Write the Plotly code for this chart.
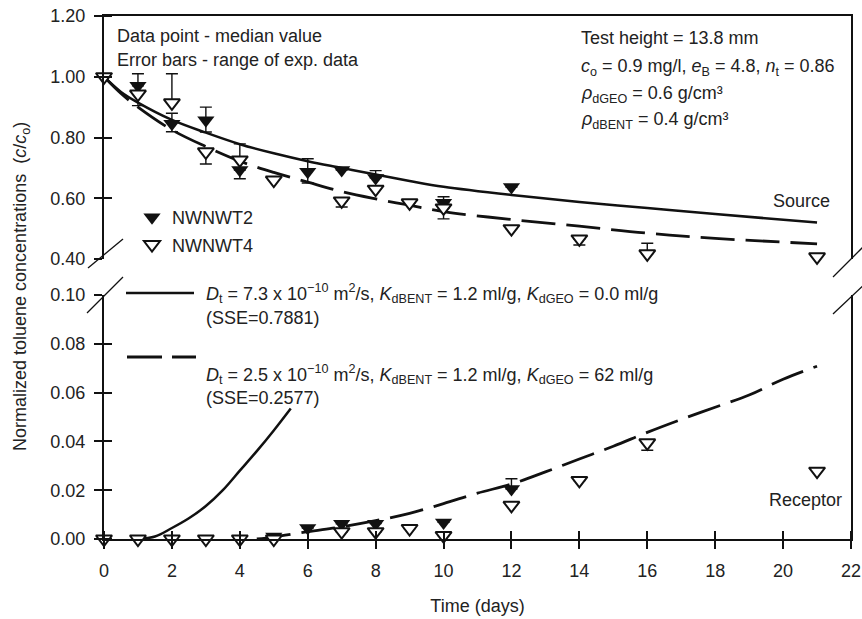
import plotly.graph_objects as go

# ---------------- data ----------------
# Source side (upper panel)
t2_src_t = [0, 1, 2, 3, 4, 6, 7, 8, 10, 12]
t2_src_c = [1.00, 0.97, 0.845, 0.857, 0.693, 0.687, 0.693, 0.667, 0.585, 0.637]
t2_src_hi = [0, 0, 0.035, 0.043, 0, 0.043, 0, 0.024, 0.020, 0]
t2_src_lo = [0, 0, 0.026, 0.039, 0.029, 0.037, 0, 0, 0, 0]

t4_src_t = [0, 1, 2, 3, 4, 5, 7, 8, 9, 10, 12, 14, 16, 21]
t4_src_c = [1.00, 0.943, 0.914, 0.753, 0.726, 0.66, 0.591, 0.63, 0.585, 0.568, 0.50, 0.466, 0.417, 0.407]
t4_src_hi = [0, 0.067, 0.096, 0, 0.053, 0, 0, 0, 0, 0, 0, 0, 0.035, 0]
t4_src_lo = [0, 0.038, 0, 0.04, 0, 0, 0.02, 0, 0, 0.036, 0, 0.02, 0, 0]

# Receptor side (lower panel)
t2_rec_t = [5, 6, 7, 8, 10, 12]
t2_rec_c = [0.001, 0.0045, 0.0062, 0.0063, 0.0068, 0.0205]
t2_rec_hi = [0, 0, 0, 0, 0, 0.0042]

t4_rec_t = [0, 1, 2, 3, 4, 5, 7, 8, 9, 10, 12, 14, 16, 21]
t4_rec_c = [0, 0, 0, 0, 0, 0, 0.003, 0.003, 0.0043, 0.0014, 0.0138, 0.024, 0.0394, 0.0278]
t4_rec_lo = [0, 0, 0, 0, 0, 0, 0, 0, 0, 0, 0, 0, 0.003, 0]

# Model curves
mod_src_t = [0, 0.5, 1, 2, 3, 4, 5, 6, 7, 8, 9, 10, 12, 14, 16, 18, 21]
solid_src = [1.0, 0.95, 0.915, 0.858, 0.816, 0.778, 0.748, 0.722, 0.70, 0.678, 0.657, 0.638, 0.611, 0.588, 0.568, 0.548, 0.52]
dashed_src = [1.0, 0.945, 0.90, 0.825, 0.77, 0.722, 0.685, 0.653, 0.622, 0.598, 0.577, 0.556, 0.53, 0.508, 0.485, 0.468, 0.45]

solid_rec_t = [1.0, 1.5, 2, 2.5, 3, 3.5, 4, 4.5, 5, 5.5]
solid_rec = [0, 0.001, 0.0045, 0.0085, 0.0135, 0.020, 0.028, 0.036, 0.0445, 0.0535]

dashed_rec_t = [4.5, 5, 6, 7, 8, 9, 10, 11, 12, 13, 14, 15, 16, 17, 18, 19, 20, 21]
dashed_rec = [0, 0.0008, 0.003, 0.005, 0.0075, 0.0105, 0.0145, 0.0188, 0.0225, 0.0275, 0.0328, 0.038,
              0.0437, 0.049, 0.054, 0.059, 0.0655, 0.0708]

x_ticks = list(range(0, 23, 2))
top_ticks = [0.40, 0.60, 0.80, 1.00, 1.20]
bot_ticks = [0.00, 0.02, 0.04, 0.06, 0.08, 0.10]

# ---------------- style ----------------
W, H = 862, 619
ML, MR, MT, MB = 104, 11, 16, 80
PW, PH = W - ML - MR, H - MT - MB
FONT = "Liberation Sans, Arial, Helvetica, sans-serif"
FS = 18
INK = "#111111"
TXT = "#222222"
DASH = "34px,11px"
LW = 2.2


def P(px, py):
    return (px - ML) / PW, (H - MB - py) / PH


top_dom = [P(0, 259)[1], 1.0]
bot_dom = [0.0, P(0, 295)[1]]

fig = go.Figure()

# model curves
fig.add_trace(go.Scatter(x=mod_src_t, y=solid_src, xaxis="x2", yaxis="y2", mode="lines",
                         line=dict(color=INK, width=2.5, shape="spline"), showlegend=False, hoverinfo="skip"))
fig.add_trace(go.Scatter(x=mod_src_t, y=dashed_src, xaxis="x2", yaxis="y2", mode="lines",
                         line=dict(color=INK, width=2.8, dash=DASH, shape="spline"), showlegend=False, hoverinfo="skip"))
fig.add_trace(go.Scatter(x=solid_rec_t, y=solid_rec, xaxis="x", yaxis="y", mode="lines",
                         line=dict(color=INK, width=2.5, shape="spline"), showlegend=False, hoverinfo="skip"))
fig.add_trace(go.Scatter(x=dashed_rec_t, y=dashed_rec, xaxis="x", yaxis="y", mode="lines",
                         line=dict(color=INK, width=2.8, dash=DASH, shape="spline"), showlegend=False, hoverinfo="skip"))

filled = dict(symbol="triangle-down", size=15, color=INK, line=dict(width=0))
opened = dict(symbol="triangle-down", size=14, color="white", line=dict(color=INK, width=2))
err = dict(type="data", symmetric=False, color=INK, thickness=1.4, width=6)

fig.add_trace(go.Scatter(x=t2_src_t, y=t2_src_c, xaxis="x2", yaxis="y2", mode="markers", marker=filled,
                         error_y=dict(err, array=t2_src_hi, arrayminus=t2_src_lo), cliponaxis=False,
                         name="NWNWT2", legendgroup="a"))
fig.add_trace(go.Scatter(x=t4_src_t, y=t4_src_c, xaxis="x2", yaxis="y2", mode="markers", marker=opened,
                         error_y=dict(err, array=t4_src_hi, arrayminus=t4_src_lo), cliponaxis=False,
                         name="NWNWT4", legendgroup="b"))
fig.add_trace(go.Scatter(x=t2_rec_t, y=t2_rec_c, xaxis="x", yaxis="y", mode="markers", marker=filled,
                         error_y=dict(err, array=t2_rec_hi, arrayminus=[0] * len(t2_rec_t)), cliponaxis=False,
                         showlegend=False))
fig.add_trace(go.Scatter(x=t4_rec_t, y=t4_rec_c, xaxis="x", yaxis="y", mode="markers", marker=opened,
                         error_y=dict(err, array=[0] * len(t4_rec_t), arrayminus=t4_rec_lo), cliponaxis=False,
                         showlegend=False))

tickfont = dict(family=FONT, size=FS, color=TXT)


def minor(vals):
    return dict(ticks="inside", ticklen=8, tickwidth=LW, tickcolor=INK, tickvals=vals, showgrid=False)


fig.update_layout(
    template="none",
    width=W, height=H, margin=dict(l=ML, r=MR, t=MT, b=MB, autoexpand=False),
    paper_bgcolor="white", plot_bgcolor="white",
    font=dict(family=FONT, size=FS, color=TXT),
    xaxis=dict(domain=[0, 1], anchor="y", range=[0, 22], tickmode="array", tickvals=x_ticks,
               ticks="outside", ticklen=8, tickwidth=LW, tickcolor=INK, ticklabelstandoff=6,
               minor=minor(x_ticks), showline=True, linewidth=LW, linecolor=INK,
               showgrid=False, zeroline=False, automargin=False, tickfont=tickfont,
               title=dict(text="Time (days)", font=dict(family=FONT, size=FS, color=TXT), standoff=20)),
    xaxis2=dict(domain=[0, 1], anchor="y2", range=[0, 22], side="top", showline=True, linewidth=LW,
                linecolor=INK, ticks="", showticklabels=False, showgrid=False, zeroline=False, automargin=False),
    yaxis=dict(domain=bot_dom, anchor="x", range=[0, 0.10], tickmode="array", tickvals=bot_ticks,
               tickformat=".2f", ticks="outside", ticklen=8, tickwidth=LW, tickcolor=INK, ticklabelstandoff=5,
               minor=minor(bot_ticks[:-1]), showline=True, linewidth=LW, linecolor=INK, mirror=True,
               showgrid=False, zeroline=False, automargin=False, tickfont=tickfont),
    yaxis2=dict(domain=top_dom, anchor="x2", range=[0.40, 1.20], tickmode="array", tickvals=top_ticks,
                tickformat=".2f", ticks="outside", ticklen=8, tickwidth=LW, tickcolor=INK, ticklabelstandoff=5,
                minor=minor(top_ticks[1:]), showline=True, linewidth=LW, linecolor=INK, mirror=True,
                showgrid=False, zeroline=False, automargin=False, tickfont=tickfont),
    legend=dict(x=P(132, 0)[0], y=P(0, 199)[1], xanchor="left", yanchor="top", bgcolor="rgba(0,0,0,0)",
                font=dict(family=FONT, size=FS, color=TXT), tracegroupgap=1, traceorder="grouped"),
)


def note(px, py, text, anchor="left", size=FS, angle=0):
    x, y = P(px, py)
    fig.add_annotation(x=x, y=y, xref="paper", yref="paper", text=text, showarrow=False,
                       xanchor=anchor, yanchor="middle", textangle=angle,
                       font=dict(family=FONT, size=size, color=TXT))


note(115, 36, "Data point - median value")
note(115, 60, "Error bars - range of exp. data")
note(579, 38, "Test height = 13.8 mm")
note(579, 67, "<i>c</i><sub>o</sub> = 0.9 mg/l, <i>e</i><sub>B</sub> = 4.8, <i>n</i><sub>t</sub> = 0.86")
note(579, 94, "<i>ρ</i><sub>dGEO</sub> = 0.6 g/cm³")
note(579, 120, "<i>ρ</i><sub>dBENT</sub> = 0.4 g/cm³")
note(832, 201, "Source", anchor="right")
note(844, 500, "Receptor", anchor="right")
note(204, 294, "<i>D</i><sub>t</sub> = 7.3 x 10<sup>−10</sup> m<sup>2</sup>/s, <i>K</i><sub>dBENT</sub> = 1.2 ml/g, "
               "<i>K</i><sub>dGEO</sub> = 0.0 ml/g")
note(204, 318, "(SSE=0.7881)")
note(204, 374, "<i>D</i><sub>t</sub> = 2.5 x 10<sup>−10</sup> m<sup>2</sup>/s, <i>K</i><sub>dBENT</sub> = 1.2 ml/g, "
               "<i>K</i><sub>dGEO</sub> = 62 ml/g")
note(204, 398, "(SSE=0.2577)")
note(21, 287, "Normalized toluene concentrations  (<i>c</i>/<i>c</i><sub>o</sub>)", anchor="center", angle=-90)


def seg(p0, p1, width=1.3, dash="solid"):
    x0, y0 = P(*p0)
    x1, y1 = P(*p1)
    fig.add_shape(type="line", xref="paper", yref="paper", x0=x0, y0=y0, x1=x1, y1=y1,
                  line=dict(color=INK, width=width, dash=dash))


# legend line samples
seg((126, 293), (194, 293), width=2.5)
seg((127, 357), (196, 357), width=2.8, dash="35px,10px")
# axis-break marks
seg((88, 268), (123, 239))
seg((87, 313), (123, 277))
seg((833, 277), (869, 241))
seg((833, 314), (869, 280))

fig.write_html("out.html")
